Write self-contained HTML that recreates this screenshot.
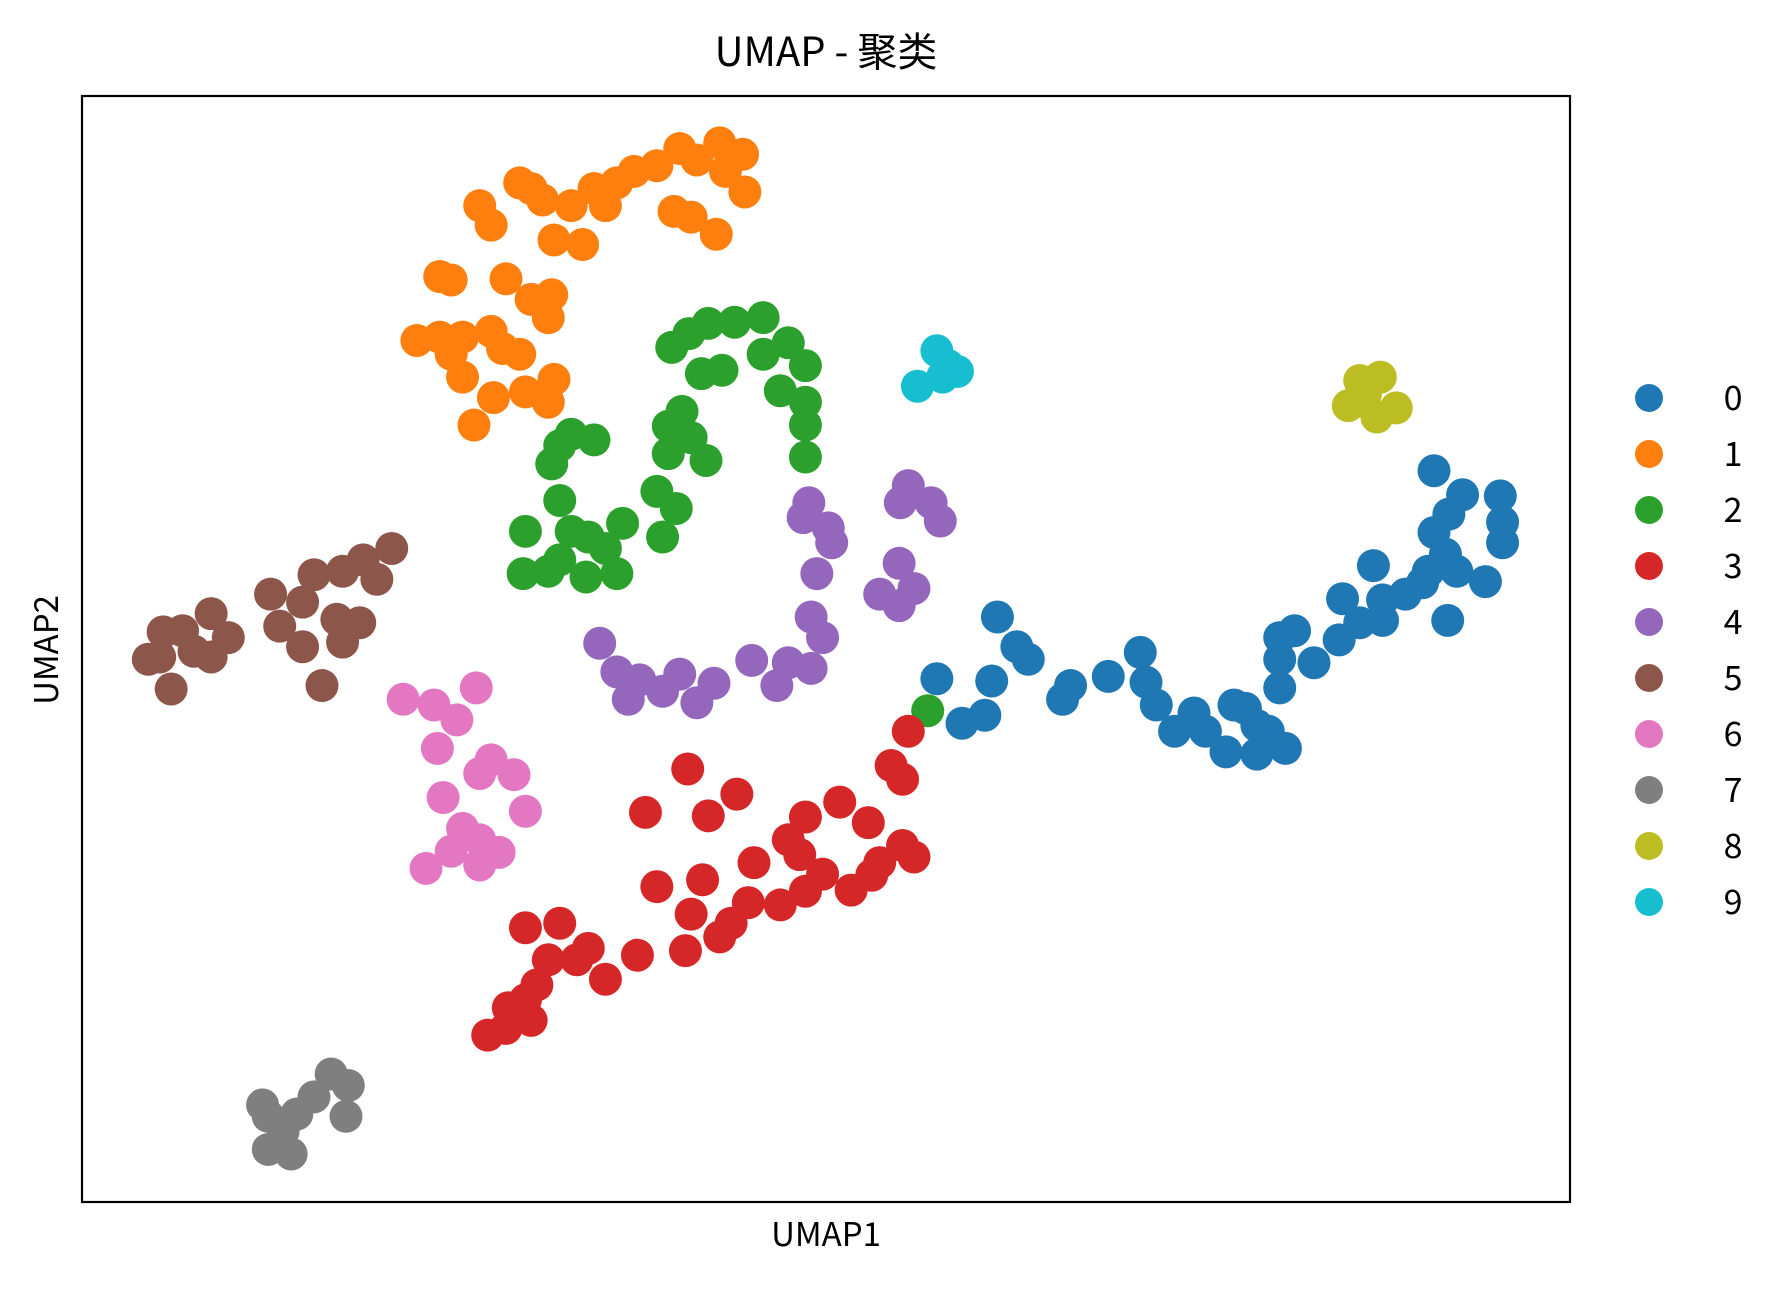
<!DOCTYPE html>
<html><head><meta charset="utf-8"><style>
html,body{margin:0;padding:0;background:#fff;}
svg text{font-family:"WenQuanYi Zen Hei","Noto Sans CJK SC",sans-serif;fill:#000;}
</style></head><body>
<svg id="chart" width="1791" height="1285" viewBox="0 0 1791 1285" xmlns="http://www.w3.org/2000/svg">
<rect x="0" y="0" width="1791" height="1285" fill="#fff"/>
<text x="826" y="66" font-size="40" text-anchor="middle">UMAP - 聚类</text>
<g id="points"></g>
<rect x="82" y="96" width="1488" height="1106" fill="none" stroke="#000" stroke-width="2.2"/>
<text x="826" y="1246" font-size="33" text-anchor="middle">UMAP1</text>
<text transform="translate(58,650) rotate(-90)" font-size="33" text-anchor="middle">UMAP2</text>
<g id="legend"></g>
</svg>
<script>
const clusterLabels=["0","1","2","3","4","5","6","7","8","9"];
const clusterColors=["#1f77b4","#ff7f0e","#2ca02c","#d62728","#9467bd","#8c564b","#e377c2","#7f7f7f","#bcbd22","#17becf"];
const xDomain=[72,1374];
const yDomain=[1052,84];
const c0=[[873,540],[890,566],[900,577],[820,594],[868,596],[862,626],[842,633],[930,612],[937,600],[970,592],[998,571],[1003,597],[1012,617],[1028,640],[1045,624],[1055,640],[1073,658],[1080,617],[1090,620],[1100,635],[1100,660],[1125,655],[1110,640],[1120,602],[1120,577],[1120,558],[1133,552],[1150,580],[1172,560],[1175,524],[1190,545],[1202,495],[1210,543],[1210,525],[1230,520],[1250,500],[1255,466],[1255,412],[1268,450],[1280,433],[1265,485],[1275,500],[1300,509],[1315,475],[1315,457],[1313,434],[1267,543],[1245,510]];
const c1=[[455,160],[465,165],[475,175],[500,180],[520,165],[530,180],[540,160],[555,150],[575,145],[595,130],[610,140],[630,125],[650,135],[635,150],[652,168],[590,185],[605,190],[627,205],[420,180],[430,197],[485,210],[510,214],[385,242],[395,245],[443,244],[465,262],[483,258],[480,278],[365,298],[385,295],[405,295],[395,310],[430,290],[440,305],[455,310],[405,330],[415,372],[432,348],[460,343],[485,332],[480,352]];
const c2=[[588,304],[603,292],[620,283],[643,282],[668,278],[690,300],[705,320],[668,310],[614,327],[632,324],[683,342],[705,352],[705,372],[705,400],[597,360],[585,373],[605,383],[585,397],[618,403],[500,380],[520,385],[490,390],[483,406],[490,438],[575,430],[592,445],[580,470],[545,458],[460,465],[500,465],[515,470],[490,490],[458,502],[480,500],[513,505],[540,502],[530,480],[812,622]];
const c3=[[795,640],[780,670],[790,682],[602,673],[565,711],[620,714],[645,695],[735,702],[705,715],[760,720],[690,735],[700,748],[720,765],[790,740],[800,750],[770,755],[660,755],[615,770],[575,776],[605,800],[640,808],[630,820],[600,832],[655,790],[683,792],[705,780],[745,779],[763,766],[460,812],[490,808],[480,840],[505,840],[515,830],[558,836],[530,857],[470,862],[460,875],[445,882],[465,893],[443,900],[427,906]];
const c4=[[795,425],[788,440],[815,440],[823,456],[787,493],[770,520],[787,530],[800,515],[708,440],[703,453],[725,462],[728,475],[715,502],[710,540],[720,558],[525,563],[540,588],[550,612],[560,595],[580,605],[595,590],[610,615],[625,598],[658,578],[680,600],[690,580],[710,585]];
const c5=[[343,480],[318,490],[330,507],[300,500],[275,503],[237,520],[265,527],[245,548],[265,566],[295,542],[315,545],[300,562],[282,600],[143,553],[160,552],[185,537],[185,575],[200,558],[130,577],[150,603],[170,570],[140,575]];
const c6=[[353,612],[380,617],[400,630],[417,602],[383,655],[430,665],[450,678],[420,677],[388,698],[460,710],[405,725],[420,735],[395,745],[437,746],[373,760],[420,757]];
const c7=[[290,940],[305,950],[303,977],[275,960],[230,967],[235,977],[260,975],[235,1006],[255,1010],[248,990]];
const c8=[[1190,333],[1208,330],[1180,355],[1205,365],[1222,357],[1195,345]];
const c9=[[820,307],[830,320],[838,325],[803,338],[825,330]];
const clusters=[c0,c1,c2,c3,c4,c5,c6,c7,c8,c9];
const X0=82,X1=1570,Y0=1202,Y1=96;
function xScale(v){return X0+(v-xDomain[0])/(xDomain[1]-xDomain[0])*(X1-X0);}
function yScale(v){return Y0+(v-yDomain[0])/(yDomain[1]-yDomain[0])*(Y1-Y0);}
const NS="http://www.w3.org/2000/svg";
const g=document.getElementById('points');
clusters.forEach((pts,ci)=>{
  pts.forEach((p,i)=>{
    const c=document.createElementNS(NS,'circle');
    c.setAttribute('cx',xScale(p[0]));
    c.setAttribute('cy',yScale(p[1]));
    c.setAttribute('r',16.5);
    c.setAttribute('fill',clusterColors[ci]);
    
    
    g.appendChild(c);
  });
});
const lg=document.getElementById('legend');
clusterLabels.forEach((lab,i)=>{
  const y=398+i*56;
  const c=document.createElementNS(NS,'circle');
  c.setAttribute('cx',1649);c.setAttribute('cy',y);c.setAttribute('r',14);
  c.setAttribute('fill',clusterColors[i]);
  
  
  lg.appendChild(c);
  const t=document.createElementNS(NS,'text');
  t.setAttribute('x',1733);t.setAttribute('y',y+12);
  t.setAttribute('font-size',34);t.setAttribute('text-anchor','middle');
  t.textContent=lab;
  
  
  lg.appendChild(t);
});
</script>
</body></html>
